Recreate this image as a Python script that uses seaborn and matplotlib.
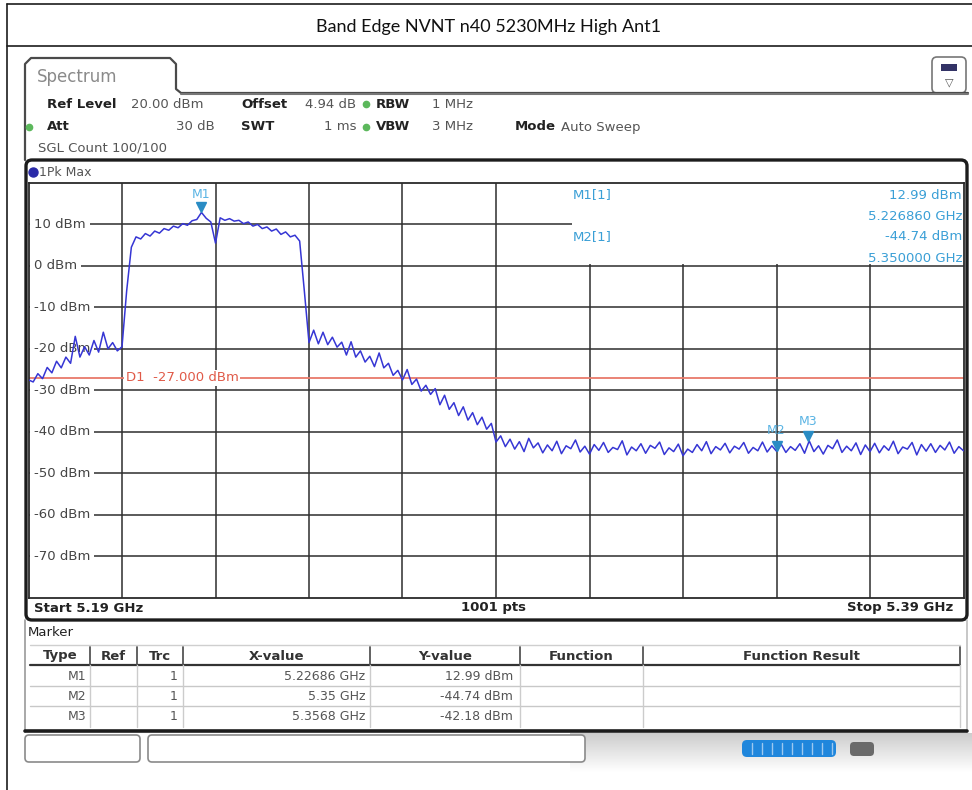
import numpy as np
import matplotlib
matplotlib.use('Agg')
import matplotlib.pyplot as plt
import matplotlib.transforms as mtransforms
from matplotlib.patches import Rectangle, FancyBboxPatch
import seaborn as sns

# sweep settings
f_start, f_stop = 5.19, 5.39
ref_level, bottom_level = 20, -80
d1_level = -27.0

# trace, one value per MHz from 5.190 to 5.390 GHz
level_dbm = [
    -27.5, -28.0, -26.0, -27.2, -24.5, -25.8, -23.0, -24.6, -22.0, -23.5,
    -17.0, -22.0, -19.5, -21.5, -18.0, -20.8, -16.0, -20.0, -18.5, -20.5,
    -19.5, -6.0, 4.5, 7.0, 6.5, 7.8, 7.2, 8.4, 7.9, 9.0,
    8.6, 9.6, 9.2, 10.2, 9.8, 10.9, 11.2, 12.9, 11.5, 10.6,
    5.5, 11.6, 11.0, 11.4, 10.8, 11.0, 10.2, 10.6, 9.6, 10.0,
    9.0, 9.4, 8.4, 8.9, 7.6, 8.2, 7.0, 7.4, 6.0, -6.0,
    -18.5, -15.5, -18.8, -16.0, -19.0, -17.2, -19.6, -18.4, -21.5, -18.3,
    -22.0, -20.5, -23.2, -21.8, -24.3, -21.0, -24.6, -23.5, -26.4, -25.2,
    -27.5, -25.0, -28.6, -27.3, -30.2, -28.8, -31.0, -29.6, -33.5, -31.2,
    -34.6, -33.0, -36.1, -34.0, -37.2, -35.4, -38.3, -36.5, -39.4, -38.0,
    -42.5, -41.0, -43.6, -41.8, -44.2, -42.4, -44.8, -41.6, -43.9, -42.7,
    -45.1, -43.2, -44.6, -42.3, -45.3, -43.4, -44.1, -42.0, -44.9, -43.5,
    -45.4, -43.1, -44.5, -42.6, -45.0, -43.8, -44.3, -42.2, -45.6, -43.7,
    -44.6, -42.9, -45.2, -43.3, -44.0, -42.5, -45.5, -43.9, -44.8, -43.0,
    -45.8, -44.2, -45.0, -43.1, -44.6, -42.4, -45.3, -43.6, -44.4, -42.8,
    -45.1, -43.5, -44.2, -42.6, -45.2, -43.8, -44.6, -42.5, -44.9, -43.4,
    -44.7, -43.0, -45.0, -43.6, -44.5, -42.9, -45.2, -42.2, -44.8, -43.4,
    -45.4, -43.3, -44.1, -42.0, -45.0, -43.5, -44.6, -42.7, -45.5, -43.2,
    -44.8, -42.8, -45.1, -43.4, -44.5, -42.3, -45.3, -43.7, -44.2, -42.6,
    -45.6, -43.1, -44.7, -42.9, -45.0, -43.3, -44.4, -42.5, -45.2, -43.6,
    -44.6,
]
freq_ghz = np.linspace(f_start, f_stop, len(level_dbm))

marker_names = ['M1', 'M2', 'M3']
marker_freq = [5.22686, 5.35, 5.3568]
marker_level = [12.99, -44.74, -42.18]
marker_x_text = ['5.22686 GHz', '5.35 GHz', '5.3568 GHz']
marker_y_text = ['12.99 dBm', '-44.74 dBm', '-42.18 dBm']

y_grid = [10, 0, -10, -20, -30, -40, -50, -60, -70]
x_grid = [5.21, 5.23, 5.25, 5.27, 5.29, 5.31, 5.33, 5.35, 5.37]

table_headers = ['Type', 'Ref', 'Trc', 'X-value', 'Y-value', 'Function', 'Function Result']
table_cols = [30, 90, 137, 183, 370, 520, 643, 960]

sns.set_theme(style='white')
plt.rcParams['font.family'] = ['DejaVu Sans']

W, H = 972, 790
fig = plt.figure(figsize=(W / 100, H / 100), dpi=100)
fig.patch.set_facecolor('white')

# background layer in pixel coordinates (origin top left)
bg = fig.add_axes([0, 0, 1, 1])
bg.set_xlim(0, W)
bg.set_ylim(H, 0)
bg.axis('off')

ink = '#1c1c1c'
gray_txt = '#555555'
cyan = '#3a9fd6'
green = '#5cb85c'

# document table border and title
bg.plot([7, W], [4, 4], color=ink, lw=1.2)
bg.plot([7, W], [46, 46], color=ink, lw=1.2)
bg.plot([7, 7], [4, H], color=ink, lw=1.2)
bg.text(488, 27, 'Band Edge NVNT n40 5230MHz High Ant1', ha='center', va='center',
        fontsize=13, family=['Lato', 'DejaVu Sans'], color='#111111')

# spectrum tab
bg.plot([25, 25, 31, 170, 176, 176, 181, 968], [160, 64, 58, 58, 64, 89, 93, 93],
        color='#4a4a4a', lw=1.6)
bg.plot([181, 968], [94, 94], color='#777777', lw=1.5)
bg.text(37, 77, 'Spectrum', ha='left', va='center', fontsize=12, color='#8a8a8a')
bg.add_patch(FancyBboxPatch((932, 57), 34, 36, boxstyle='round,pad=0,rounding_size=5',
                            fc='white', ec='#777777', lw=1.2))
bg.add_patch(Rectangle((941, 64), 16, 7, fc='#333366', ec='none'))
bg.text(949, 82, '\u25bd', ha='center', va='center', fontsize=8, color='#555555')

# header settings
hdr = 9.5
row1, row2, row3 = 104, 127, 148
bg.text(47, row1, 'Ref Level', fontsize=hdr, weight='bold', color='#222', va='center')
bg.text(131, row1, '20.00 dBm', fontsize=hdr, color=gray_txt, va='center')
bg.text(241, row1, 'Offset', fontsize=hdr, weight='bold', color='#222', va='center')
bg.text(356, row1, '4.94 dB', fontsize=hdr, color=gray_txt, va='center', ha='right')
bg.text(376, row1, 'RBW', fontsize=hdr, weight='bold', color='#222', va='center')
bg.text(432, row1, '1 MHz', fontsize=hdr, color=gray_txt, va='center')
bg.text(47, row2, 'Att', fontsize=hdr, weight='bold', color='#222', va='center')
bg.text(215, row2, '30 dB', fontsize=hdr, color=gray_txt, va='center', ha='right')
bg.text(241, row2, 'SWT', fontsize=hdr, weight='bold', color='#222', va='center')
bg.text(356, row2, '1 ms', fontsize=hdr, color=gray_txt, va='center', ha='right')
bg.text(376, row2, 'VBW', fontsize=hdr, weight='bold', color='#222', va='center')
bg.text(432, row2, '3 MHz', fontsize=hdr, color=gray_txt, va='center')
bg.text(515, row2, 'Mode', fontsize=hdr, weight='bold', color='#222', va='center')
bg.text(561, row2, 'Auto Sweep', fontsize=hdr, color=gray_txt, va='center')
bg.text(38, row3, 'SGL Count 100/100', fontsize=hdr, color=gray_txt, va='center')
for gx, gy in [(366, row1), (366, row2), (29, row2)]:
    bg.plot(gx, gy, 'o', ms=4.5, color=green)

# graph window frame
bg.add_patch(FancyBboxPatch((26, 160), 941, 460, boxstyle='round,pad=0,rounding_size=6',
                            fc='white', ec=ink, lw=2.4))
bg.plot(33, 172, 'o', ms=6.5, color='#2a2aa8')
bg.text(39, 172, '1Pk Max', fontsize=9, color=gray_txt, va='center')
bg.text(34, 608, 'Start 5.19 GHz', fontsize=9.5, weight='bold', color='#222', va='center')
bg.text(493, 608, '1001 pts', fontsize=9.5, weight='bold', color='#222', va='center', ha='center')
bg.text(953, 608, 'Stop 5.39 GHz', fontsize=9.5, weight='bold', color='#222', va='center', ha='right')

# marker table panel
bg.plot([25, 25], [620, 732], color='#9a9a9a', lw=1.2)
bg.plot([967, 967], [620, 732], color='#bdbdbd', lw=1.2)
bg.text(28, 633, 'Marker', fontsize=9.5, color='#222', va='center')
bg.plot([30, 960], [645, 645], color='#cfcfcf', lw=1)
bg.plot([30, 960], [665, 665], color='#333333', lw=1.6)
for ly in [686, 706]:
    bg.plot([30, 960], [ly, ly], color='#c8c8c8', lw=1)
for cx in table_cols[1:]:
    bg.plot([cx, cx], [647, 665], color='#555555', lw=1.3)
    bg.plot([cx, cx], [665, 727], color='#cccccc', lw=1)
for i, h in enumerate(table_headers):
    cx = (table_cols[i] + table_cols[i + 1]) / 2
    bg.text(cx, 656, h, fontsize=9.5, weight='bold', color='#333', ha='center', va='center')
for r, name in enumerate(marker_names):
    ry = 676 + 20 * r
    bg.text(86, ry, name, fontsize=9, color=gray_txt, ha='right', va='center')
    bg.text(178, ry, '1', fontsize=9, color=gray_txt, ha='right', va='center')
    bg.text(365, ry, marker_x_text[r], fontsize=9, color=gray_txt, ha='right', va='center')
    bg.text(513, ry, marker_y_text[r], fontsize=9, color=gray_txt, ha='right', va='center')
bg.plot([25, 967], [731, 731], color=ink, lw=2.6)

# status bar
grad = np.linspace(0.80, 1.0, 40).reshape(-1, 1)
bg.imshow(np.repeat(grad, 2, axis=1), cmap='gray', vmin=0, vmax=1, aspect='auto',
          extent=(570, W, 772, 733), zorder=0)
bg.add_patch(FancyBboxPatch((25, 735), 115, 27, boxstyle='round,pad=0,rounding_size=4',
                            fc='white', ec='#8a8a8a', lw=1.2))
bg.add_patch(FancyBboxPatch((148, 735), 437, 27, boxstyle='round,pad=0,rounding_size=4',
                            fc='white', ec='#8a8a8a', lw=1.2))
bg.add_patch(FancyBboxPatch((742, 740), 94, 17, boxstyle='round,pad=0,rounding_size=5',
                            fc='#1f86dc', ec='none'))
for bx in np.arange(752, 834, 10):
    bg.plot([bx, bx], [743, 754], color='#9cc8ef', lw=1)
bg.add_patch(FancyBboxPatch((850, 742), 24, 14, boxstyle='round,pad=0,rounding_size=4',
                            fc='#6a6a6a', ec='none'))

# spectrum plot area
left, top, right, bottom = 28.5, 183, 963.5, 597.5
ax = fig.add_axes([left / W, 1 - bottom / H, (right - left) / W, (bottom - top) / H])
ax.set_xlim(f_start, f_stop)
ax.set_ylim(bottom_level, ref_level)
ax.set_facecolor('white')
ax.set_xticks([])
ax.set_yticks([])
for s in ax.spines.values():
    s.set_color('#2a2a2a')
    s.set_linewidth(1.3)

for gy in y_grid:
    ax.axhline(gy, color='#2e2e2e', lw=1.1, zorder=1)
for gx in x_grid:
    ax.axvline(gx, color='#2e2e2e', lw=1.1, zorder=1)

# marker readout box hides the grid in the upper right corner
box_left = f_start + (572 - left) / (right - left) * (f_stop - f_start)
ax.add_patch(Rectangle((box_left, 0.45), f_stop - box_left, ref_level - 0.45,
                       fc='white', ec='none', zorder=2))

blend = mtransforms.blended_transform_factory(ax.transAxes, ax.transData)
for gy in y_grid:
    ax.text(0.006, gy, f'{gy} dBm', transform=blend, fontsize=9.5, color='#444444',
            ha='left', va='center', zorder=3,
            bbox=dict(boxstyle='square,pad=0.3', fc='white', ec='none'))

ax.axhline(d1_level, color='#e87a6a', lw=1.3, zorder=2.5)
ax.text(5.2108, d1_level, 'D1  -27.000 dBm', fontsize=9.5, color='#e05a48',
        ha='left', va='center', zorder=3,
        bbox=dict(boxstyle='square,pad=0.1', fc='white', ec='none'))

sns.lineplot(x=freq_ghz, y=level_dbm, ax=ax, color='#3636d4', linewidth=1.1,
             estimator=None, sort=False, zorder=4)

# marker symbols
label_off = [4.2, 5.0, 4.6]
for name, mf, ml, off in zip(marker_names, marker_freq, marker_level, label_off):
    ax.plot(mf, ml + 1.2, marker='v', ms=7, color='#2a8cc4', zorder=5)
    ax.text(mf, ml + off, name, fontsize=9, color='#5ab4e4', ha='center', va='center', zorder=5)

# marker readout text
xr = f_stop - 0.0003
ax.text(box_left + 0.0002, 17.1, 'M1[1]', fontsize=9.5, color=cyan, va='center', zorder=3)
ax.text(box_left + 0.0002, 7.0, 'M2[1]', fontsize=9.5, color=cyan, va='center', zorder=3)
ax.text(xr, 17.1, '12.99 dBm', fontsize=9.5, color=cyan, va='center', ha='right', zorder=3)
ax.text(xr, 12.0, '5.226860 GHz', fontsize=9.5, color=cyan, va='center', ha='right', zorder=3)
ax.text(xr, 7.0, '-44.74 dBm', fontsize=9.5, color=cyan, va='center', ha='right', zorder=3)
ax.text(xr, 1.9, '5.350000 GHz', fontsize=9.5, color=cyan, va='center', ha='right', zorder=3)

fig.savefig('out.png', dpi=100)
